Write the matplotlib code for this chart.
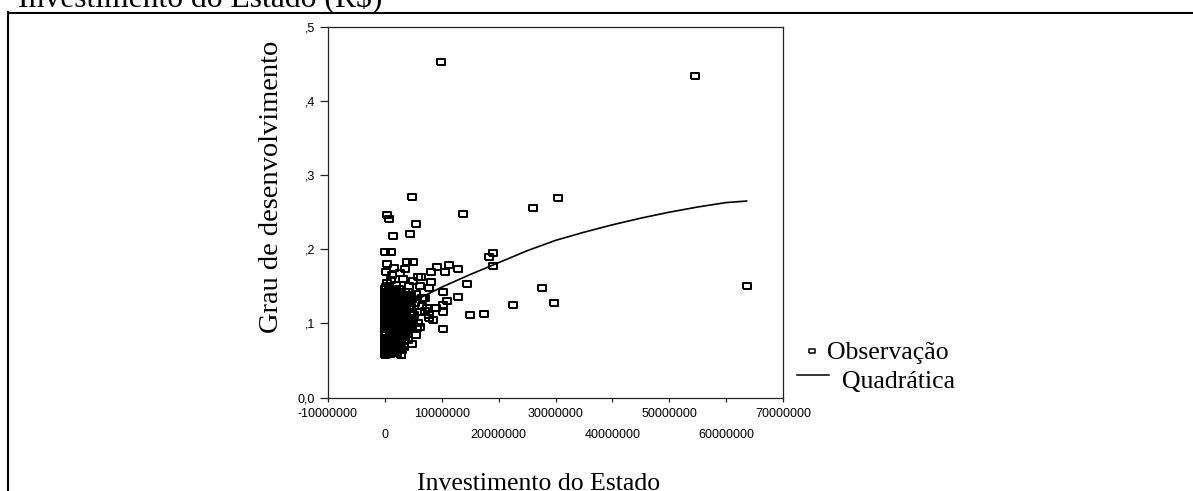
import numpy as np
import matplotlib
matplotlib.use("Agg")
import matplotlib.pyplot as plt
from matplotlib.lines import Line2D

# ---------------- data (investment in millions of R$, degree in thousandths) ----
invest_mi = [
    # dense cluster, column A
    0.0, 0.2, 0.1, 0.0, 0.3, 0.1, 0.2, 0.0, 0.1, 0.3, 0.0, 0.2, 0.1, 0.0, 0.2, 0.3, 0.1, 0.0,
    0.2, 0.1, 0.0, 0.3, 0.1, 0.2, 0.0, 0.1, 0.2, 0.0, 0.3, 0.1, 0.0, 0.2, 0.1, 0.0, 0.2,
    # column B
    0.9, 1.0, 0.8, 0.9, 1.1, 0.8, 1.0, 0.9, 0.8, 1.1, 0.9, 1.0, 0.8, 0.9, 1.1, 1.0, 0.8,
    0.9, 1.0, 1.1, 0.8, 0.9, 1.0, 0.8, 1.1, 0.9, 1.0, 0.8, 0.9, 1.1, 1.0, 0.8, 0.9,
    # column C
    1.8, 1.7, 1.9, 1.8, 1.6, 1.9, 1.7, 1.8, 2.0, 1.7, 1.8, 1.9, 1.6, 1.8, 1.7, 2.0,
    1.8, 1.9, 1.7, 1.8, 1.6, 1.9, 1.8, 1.7, 2.0, 1.8, 1.9, 1.7, 1.8, 1.6, 1.9,
    # column D
    2.6, 2.7, 2.8, 2.6, 2.7, 2.9, 2.6, 2.8, 2.7, 2.6, 2.9, 2.7, 2.8, 2.6,
    2.7, 2.9, 2.8, 2.6, 2.7, 2.8, 2.9, 2.6, 2.7, 2.8, 2.6, 2.9, 2.7, 2.8,
    # column E
    3.6, 3.5, 3.7, 3.6, 3.4, 3.7, 3.5, 3.6, 3.8, 3.5, 3.6, 3.7,
    3.4, 3.6, 3.5, 3.8, 3.6, 3.7, 3.5, 3.6, 3.4, 3.7, 3.6,
    # column F
    4.5, 4.4, 4.6, 4.5, 4.3, 4.6, 4.4, 4.5, 4.7, 4.4, 4.5, 4.6, 4.3, 4.5, 4.4, 4.7, 4.5, 4.6,
    # cluster fringe
    0.4, 3.9, 5.0, 1.6, 3.5, 0.2, 1.0, 2.65, 4.9, 6.2, 5.9, 0.3, 2.0, 3.2, 1.3, 4.2, 2.4, 0.8,
    6.5, 7.0, 5.9, 5.6, 4.7, 3.4, 2.8, 0.0, 1.0, 1.5, 0.9, 5.0, 7.8, 6.2, 7.0, 6.5, 5.5, 5.3,
    5.2, 4.0, 3.0, 2.2, 5.4,
    # above the cluster
    4.8, 0.4, 0.8, 5.5, 1.5, 4.4, 0.0, 1.0,
    # spread-out observations
    13.7, 26.1, 30.5, 27.6, 29.7, 63.6, 54.6, 9.8,
    18.95, 18.25, 18.95, 11.3, 9.2, 10.5, 8.05, 12.8, 14.5, 6.3, 8.05, 7.75, 10.2, 12.8,
    6.75, 11.0, 10.2, 9.0, 7.35, 10.2, 22.5, 17.5, 15.0, 8.5, 7.7, 10.3, 6.2,
]

grau_mil = [
    # column A
    58, 60, 63, 65, 68, 71, 73, 76, 79, 81, 84, 86, 89, 92, 94, 97, 100, 102,
    105, 108, 110, 113, 116, 118, 121, 124, 126, 129, 132, 134, 137, 140, 143, 146, 149,
    # column B
    59, 62, 64, 67, 70, 72, 75, 78, 80, 83, 86, 88, 91, 94, 96, 99, 102,
    104, 107, 110, 112, 115, 118, 120, 123, 126, 128, 131, 134, 136, 139, 142, 145,
    # column C
    63, 66, 69, 71, 74, 77, 79, 82, 85, 87, 90, 93, 95, 98, 101, 103,
    106, 109, 111, 114, 117, 119, 122, 125, 127, 130, 133, 135, 138, 141, 144,
    # column D
    70, 73, 75, 78, 81, 83, 86, 89, 91, 94, 97, 99, 102, 105,
    107, 110, 113, 115, 118, 121, 123, 126, 129, 131, 134, 137, 140, 143,
    # column E
    82, 85, 88, 90, 93, 96, 98, 101, 104, 106, 109, 112,
    114, 117, 120, 122, 125, 128, 130, 133, 136, 139, 142,
    # column F
    92, 95, 98, 100, 103, 106, 108, 111, 114, 116, 119, 122, 124, 127, 130, 133, 136, 139,
    # cluster fringe
    180, 183, 183, 175, 173, 169, 159, 168, 157, 151, 163, 155, 152, 160, 165, 150, 147, 150,
    135, 134, 100, 94, 72, 69, 58, 60, 60, 67, 78, 103, 111, 115, 117, 123, 140, 128,
    112, 78, 64, 60, 85,
    # above the cluster
    271, 246, 241, 234, 218, 220, 196, 197,
    # spread-out observations
    248, 255, 269, 148, 127, 150, 433, 452,
    195, 189, 178, 179, 176, 169, 169, 174, 153, 162, 156, 148, 142, 136,
    135, 130, 125, 121, 121, 116, 125, 113, 111, 105, 108, 93, 95,
]

# quadratic fit line
curve_x_mi = [0, 5, 10, 15, 20, 25, 30, 35, 40, 45, 50, 55, 60, 63.6]
curve_y = [0.108, 0.130, 0.149, 0.166, 0.182, 0.198, 0.212, 0.223, 0.233, 0.242,
           0.250, 0.257, 0.263, 0.265]

x_major = [-10000000, 10000000, 30000000, 50000000, 70000000]
x_minor = [0, 20000000, 40000000, 60000000]
y_ticks = [0.0, 0.1, 0.2, 0.3, 0.4, 0.5]
y_ticklabels = ["0,0", ",1", ",2", ",3", ",4", ",5"]

legend_labels = ["Observação", "Quadrática"]

# ---------------- figure ----------------
W, H = 1193, 491
fig = plt.figure(figsize=(W / 100, H / 100), dpi=100)
fig.patch.set_facecolor("white")

ax_l, ax_r, ax_t, ax_b = 328, 783, 26.7, 397.7
ax = fig.add_axes([ax_l / W, 1 - ax_b / H, (ax_r - ax_l) / W, (ax_b - ax_t) / H])

rect = [(-1, -0.66), (1, -0.66), (1, 0.66), (-1, 0.66), (-1, -0.66)]

x = np.array(invest_mi) * 1e6
y = np.array(grau_mil) / 1000.0
ax.plot(x, y, linestyle="none", marker=rect, markersize=5.6,
        markerfacecolor="none", markeredgecolor="black", markeredgewidth=1.45)
ax.plot(np.array(curve_x_mi) * 1e6, curve_y, color="black", lw=1.2)

ax.set_xlim(-10000000, 70000000)
ax.set_ylim(0, 0.5)

for s in ax.spines.values():
    s.set_linewidth(0.9)
    s.set_color("#222222")

tick_font = dict(family="Liberation Sans", size=9)
ax.set_yticks(y_ticks)
ax.set_yticklabels(y_ticklabels, **tick_font)
ax.set_xticks(x_major)
ax.set_xticklabels([str(v) for v in x_major], **tick_font)
ax.set_xticks(x_minor, minor=True)
ax.set_xticklabels([str(v) for v in x_minor], minor=True, **tick_font)
ax.yaxis.set_minor_locator(matplotlib.ticker.NullLocator())

ax.tick_params(axis="y", direction="out", length=5.8, width=0.9, pad=3.5, color="#222222")
ax.tick_params(axis="x", which="both", direction="out", length=2.9, width=0.9,
               color="#222222")
ax.tick_params(axis="x", which="major", pad=4.6)
ax.tick_params(axis="x", which="minor", pad=19.4)

serif = "Liberation Serif"
fig.text(18 / W, 1 - 7.5 / H, "Investimento do Estado (R$)", fontsize=22.8,
         family=serif, va="baseline", ha="left", parse_math=False)
fig.text(272 / W, 1 - 186.5 / H, "Grau de desenvolvimento", rotation=90,
         fontsize=20.5, family=serif, ha="center", va="center")
fig.text(539 / W, 1 - 489.5 / H, "Investimento do Estado", fontsize=18.5,
         family=serif, ha="center", va="baseline")

# outer document frame
fig.add_artist(Line2D([8 / W, 1.0], [1 - 13 / H, 1 - 13 / H], transform=fig.transFigure,
                      color="black", lw=1.5))
fig.add_artist(Line2D([8.3 / W, 8.3 / W], [0.0, 1 - 12.3 / H], transform=fig.transFigure,
                      color="black", lw=1.5))

# legend
fig.add_artist(Line2D([811.7 / W], [1 - 351 / H], transform=fig.transFigure,
                      linestyle="none", marker=rect, markersize=4.4,
                      markerfacecolor="none", markeredgecolor="black", markeredgewidth=1.1))
fig.add_artist(Line2D([796.7 / W, 829.3 / W], [1 - 375 / H, 1 - 375 / H],
                      transform=fig.transFigure, color="black", lw=1.1))
fig.text(826.7 / W, 1 - 359.3 / H, legend_labels[0], fontsize=18.5, family=serif,
         va="baseline", ha="left")
fig.text(841.7 / W, 1 - 388.3 / H, legend_labels[1], fontsize=18.5, family=serif,
         va="baseline", ha="left")

fig.savefig("out.png", dpi=100, facecolor="white")
